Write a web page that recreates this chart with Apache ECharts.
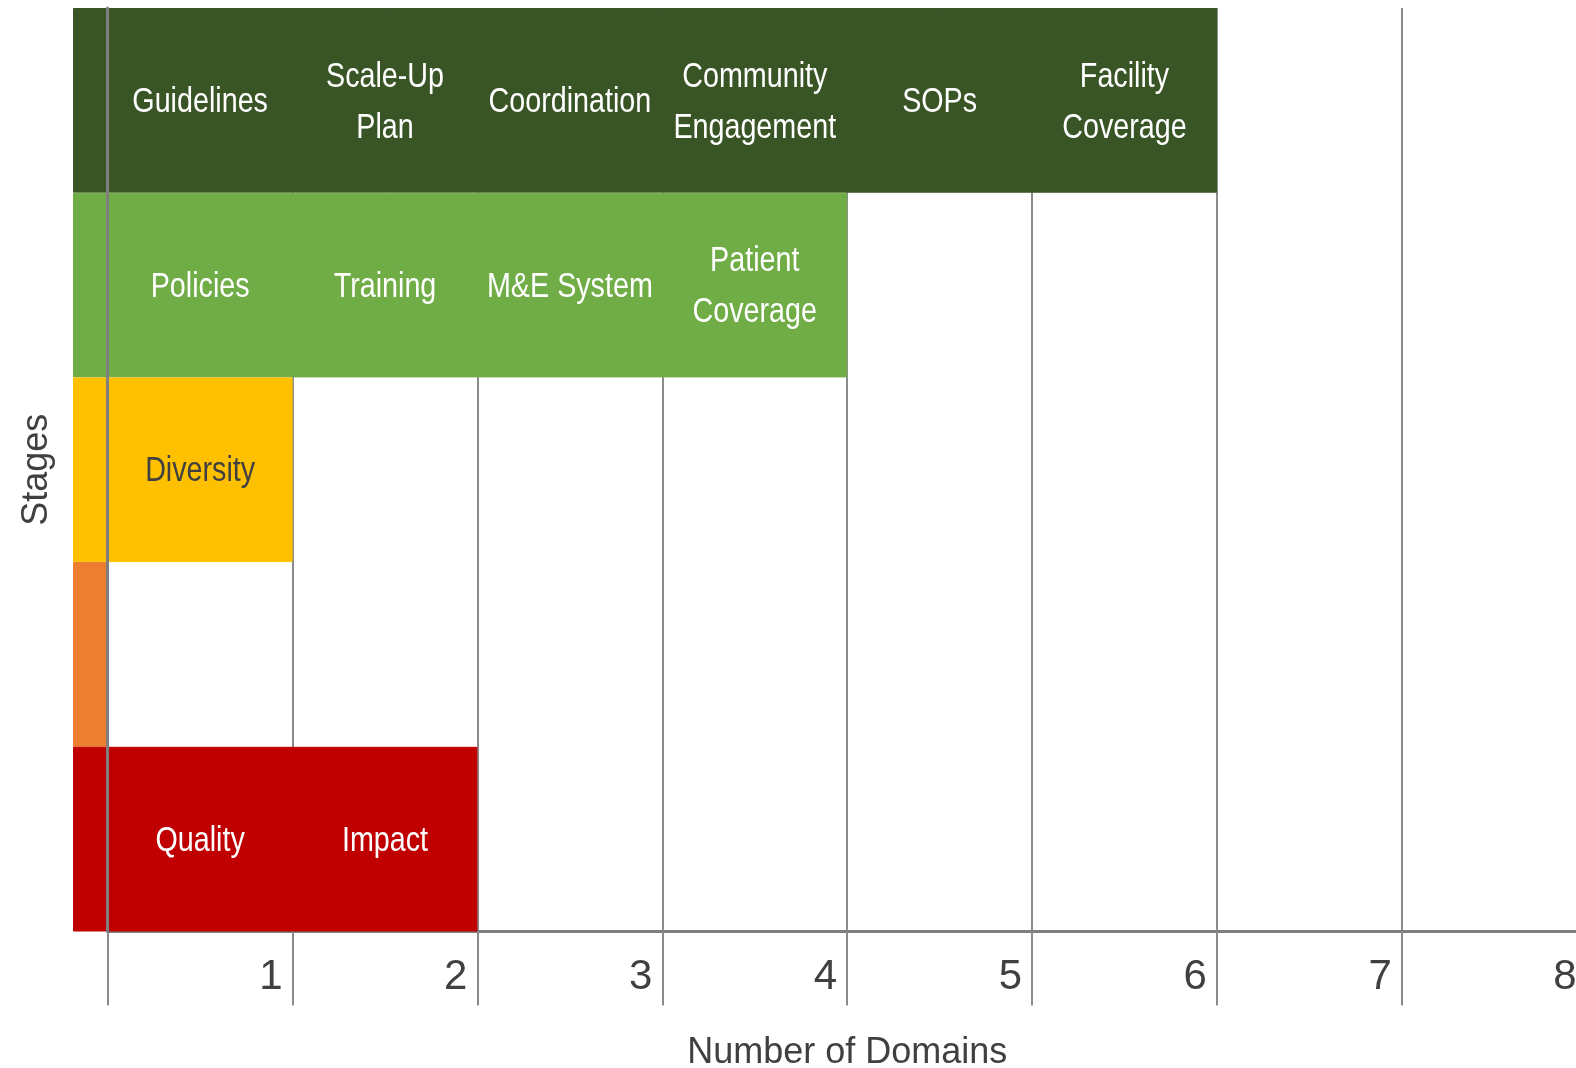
<!DOCTYPE html>
<html>
<head>
<meta charset="utf-8">
<script src="https://cdn.jsdelivr.net/npm/echarts@6/dist/echarts.min.js"></script>
<style>
  html, body { margin: 0; padding: 0; background: #fff; }
  #chart { width: 1576px; height: 1068px; }
</style>
</head>
<body>
<div id="chart"></div>
<script>
// stages top to bottom
const stages = ["Stage 5", "Stage 4", "Stage 3", "Stage 2", "Stage 1"];
const stageColors = ["#3A5525", "#70AD47", "#FFC000", "#ED7D31", "#C00000"];
const labelColors = ["#ffffff", "#ffffff", "#404040", "#404040", "#ffffff"];

// domains reached in each stage, one cell per domain
const stageDomains = [
  ["Guidelines", "Scale-Up\nPlan", "Coordination", "Community\nEngagement", "SOPs", "Facility\nCoverage"],
  ["Policies", "Training", "M&E System", "Patient\nCoverage"],
  ["Diversity"],
  [],
  ["Quality", "Impact"]
];

const xTicks = [0, 1, 2, 3, 4, 5, 6, 7, 8];

const chart = echarts.init(document.getElementById("chart"));

// label of each cell sits in the middle of its domain slot
const cells = [];
stageDomains.forEach((d, i) => {
  d.forEach((name, j) => {
    cells.push({ value: [j + 0.5, i], name: name, color: labelColors[i] });
  });
});

const labelFont = "'Liberation Sans', Arial, sans-serif";

const option = {
  animation: false,
  grid: [
    { left: 107.7, top: 8, width: 1479, height: 923.5, outerBoundsMode: "none" },
    { left: 73, top: 8, width: 34.7, height: 923.5, outerBoundsMode: "none" }
  ],
  xAxis: [
    {
      gridIndex: 0,
      type: "value",
      min: xTicks[0],
      max: xTicks[xTicks.length - 1],
      interval: 1,
      name: "Number of Domains",
      nameLocation: "middle",
      nameGap: 104,
      nameTextStyle: { fontFamily: labelFont, fontSize: 36, color: "#404040" },
      axisLine: { show: true, lineStyle: { color: "#7F7F7F", width: 3 } },
      axisTick: { show: true, length: 74, lineStyle: { color: "#8C8C8C", width: 2 } },
      splitLine: { show: true, lineStyle: { color: "#8C8C8C", width: 2 } },
      axisLabel: {
        show: true,
        align: "right",
        margin: 25,
        padding: [0, 10, 0, 0],
        fontFamily: labelFont,
        fontSize: 42,
        color: "#404040",
        formatter: (v) => (v === 0 ? "" : String(v))
      }
    },
    { gridIndex: 1, type: "value", min: 0, max: 1, show: false }
  ],
  yAxis: [
    {
      gridIndex: 0,
      type: "category",
      data: stages,
      inverse: true,
      z: 6,
      name: "Stages",
      nameLocation: "middle",
      nameGap: 53,
      nameRotate: 90,
      nameTextStyle: { fontFamily: labelFont, fontSize: 36, color: "#404040" },
      axisLine: { show: true, lineStyle: { color: "#7F7F7F", width: 3 } },
      axisTick: { show: false },
      axisLabel: { show: false },
      splitLine: { show: false }
    },
    { gridIndex: 1, type: "category", data: stages, inverse: true, show: false }
  ],
  series: [
    {
      // stage colour strip at the left
      type: "bar",
      xAxisIndex: 1,
      yAxisIndex: 1,
      barCategoryGap: "0%",
      data: stages.map((s, i) => ({
        value: 1,
        itemStyle: { color: stageColors[i], borderColor: stageColors[i], borderWidth: 1 }
      })),
      emphasis: { disabled: true }
    },
    {
      // number of domains per stage
      type: "bar",
      xAxisIndex: 0,
      yAxisIndex: 0,
      barCategoryGap: "0%",
      data: stageDomains.map((d, i) =>
        d.length
          ? { value: d.length, itemStyle: { color: stageColors[i], borderColor: stageColors[i], borderWidth: 1 } }
          : "-"
      ),
      emphasis: { disabled: true }
    },
    {
      type: "custom",
      xAxisIndex: 0,
      yAxisIndex: 0,
      z: 5,
      silent: true,
      data: cells.map((c) => c.value),
      renderItem: (params, api) => {
        const c = cells[params.dataIndex];
        const p = api.coord([api.value(0), api.value(1)]);
        return {
          type: "text",
          x: p[0],
          y: p[1] + 2,
          scaleX: 0.82,
          style: {
            text: c.name,
            fill: c.color,
            font: "35px " + labelFont,
            lineHeight: 51,
            align: "center",
            verticalAlign: "middle"
          }
        };
      }
    }
  ]
};

chart.setOption(option);
</script>
</body>
</html>
